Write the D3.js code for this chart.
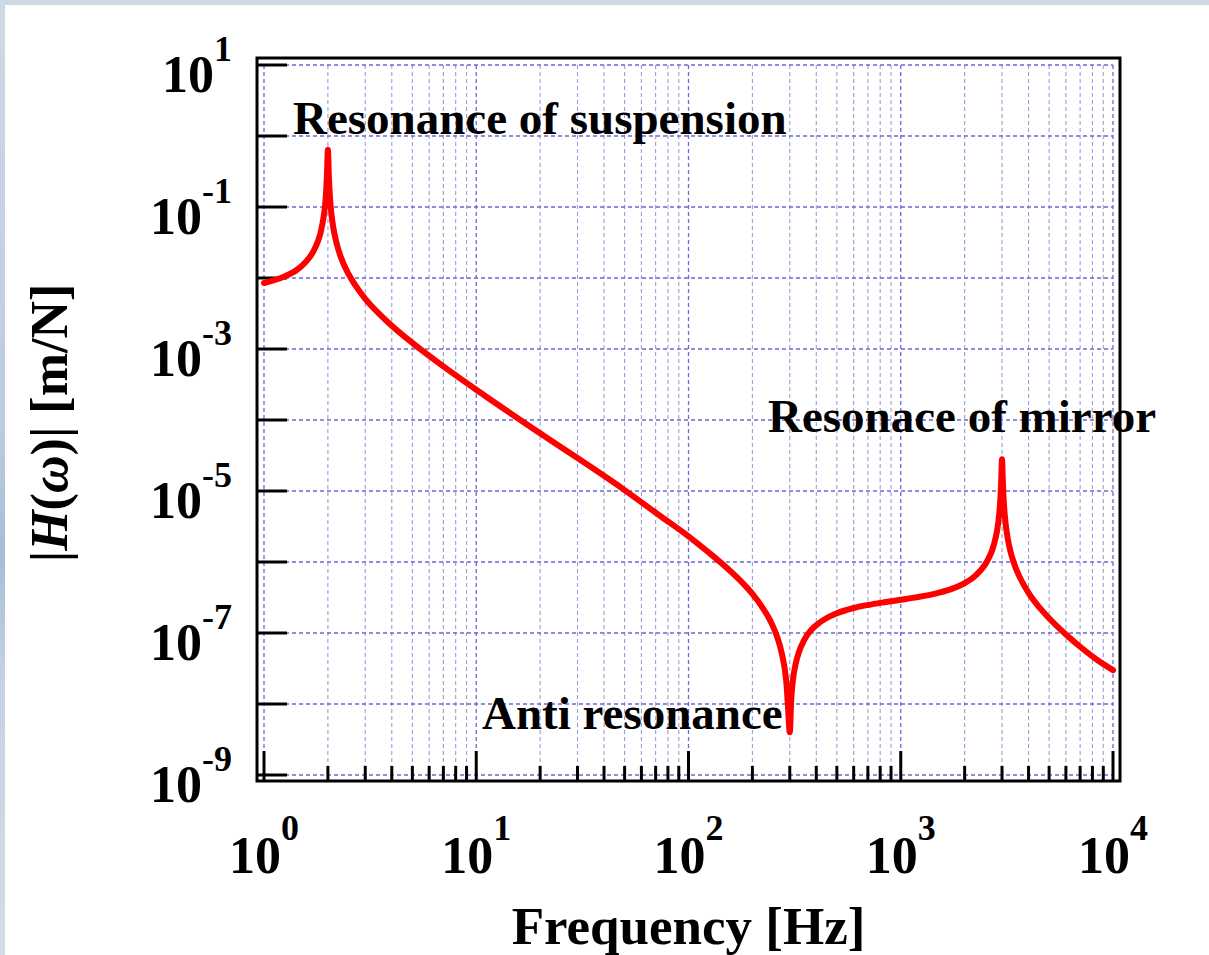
<!DOCTYPE html>
<html>
<head>
<meta charset="utf-8">
<script src="https://cdn.jsdelivr.net/npm/d3@7"></script>
<style>
  html, body { margin: 0; padding: 0; background: #ffffff; }
  svg { display: block; }
  text { font-family: "Liberation Serif", "Times New Roman", serif; font-weight: bold; fill: #000; }
</style>
</head>
<body>
<svg id="chart" width="1209" height="955"></svg>
<script>
// Frequency response magnitude of a suspended mirror (compliance, m/N)
const freqHz = [
  1, 1.1, 1.2, 1.3, 1.4, 1.5, 1.6, 1.7, 1.8, 1.85, 1.9, 1.93, 1.95, 1.98, 2,
  2.02, 2.05, 2.07, 2.1, 2.15, 2.2, 2.3, 2.5, 2.7, 3, 3.5, 4, 5, 7, 10,
  20, 50, 75, 100, 125, 150, 175, 200, 220, 240, 250, 260, 270, 280, 285,
  290, 295, 300, 305, 310, 320, 330, 350, 375, 400, 450, 500, 600, 700, 850,
  1000, 1200, 1500, 1750, 2000, 2250, 2500, 2650, 2700, 2800, 2850, 2900, 2950,
  2970, 2980, 2990, 3000, 3010, 3020, 3030, 3050, 3100, 3200, 3300, 3400, 3500,
  4000, 4500, 5000, 6000, 7000, 8500, 10000
];
const magnitude = [
  8.5e-3, 9.2e-3, 1.0e-2, 1.11e-2, 1.25e-2, 1.46e-2, 1.78e-2, 2.31e-2, 3.37e-2, 4.43e-2, 6.6e-2, 9.2e-2, 1.27e-1, 2.87e-1, 6.4e-1,
  2.85e-1, 1.24e-1, 8.9e-2, 6.2e-2, 4.11e-2, 3.05e-2, 1.98e-2, 1.14e-2, 7.8e-3, 5.1e-3, 3.1e-3, 2.13e-3, 1.22e-3, 5.7e-4, 2.67e-4,
  6.5e-5, 1.03e-5, 4.27e-6, 2.3e-6, 1.35e-6, 8.5e-7, 5.5e-7, 3.55e-7, 2.43e-7, 1.59e-7, 1.24e-7, 9.3e-8, 6.5e-8, 4.0e-8, 2.9e-8,
  1.8e-8, 8.0e-9, 4.0e-9, 1.2e-8, 2.1e-8, 3.7e-8, 5.2e-8, 7.9e-8, 1.07e-7, 1.29e-7, 1.64e-7, 1.9e-7, 2.25e-7, 2.48e-7, 2.73e-7,
  2.94e-7, 3.2e-7, 3.67e-7, 4.22e-7, 5.05e-7, 6.44e-7, 9.25e-7, 1.29e-6, 1.49e-6, 2.2e-6, 2.9e-6, 4.3e-6, 8.2e-6,
  1.27e-5, 1.7e-5, 2.37e-5, 2.8e-5, 2.36e-5, 1.7e-5, 1.27e-5, 8.1e-6, 4.15e-6, 2.06e-6, 1.35e-6, 1.0e-6, 7.9e-7,
  3.67e-7, 2.29e-7, 1.61e-7, 9.5e-8, 6.4e-8, 4.1e-8, 3.0e-8
];

// Axis ticks
const xMajorExp = [0, 1, 2, 3, 4];
const yMajorExp = [1, 0, -1, -2, -3, -4, -5, -6, -7, -8, -9];
const yLabelExp = [1, -1, -3, -5, -7, -9];

// Annotations
const notes = [
  { text: "Resonance of suspension", freq: 2 },
  { text: "Resonace of mirror", freq: 3000 },
  { text: "Anti resonance", freq: 300 }
];

const svg = d3.select("#chart");
const W = 1209, H = 955;

// page background with a soft blue border strip on top and left
const defs = svg.append("defs");
const lg = defs.append("linearGradient").attr("id", "edge").attr("x1", 0).attr("y1", 0).attr("x2", 0).attr("y2", 1);
[["0%", "#cfd9e7"], ["45%", "#bccbe0"], ["58%", "#a9bcd8"], ["72%", "#c6d3e4"], ["100%", "#d3dce8"]]
  .forEach(([o, c]) => lg.append("stop").attr("offset", o).attr("stop-color", c));
svg.append("rect").attr("width", W).attr("height", H).attr("fill", "#ffffff");
svg.append("rect").attr("x", 0).attr("y", 0).attr("width", W).attr("height", 5).attr("fill", "#cdd8e6");
svg.append("rect").attr("x", 0).attr("y", 0).attr("width", 5).attr("height", H).attr("fill", "url(#edge)");

// plot area
const x0 = 264, x1 = 1113, y0 = 65, y1 = 775;
const x = d3.scaleLog().domain([1, 1e4]).range([x0, x1]);
const y = d3.scaleLog().domain([1e-9, 1e1]).range([y1, y0]);

// grid
const grid = svg.append("g");
const xMinor = [];
for (let e = 0; e < 4; e++) for (let m = 2; m <= 9; m++) xMinor.push(m * Math.pow(10, e));
grid.selectAll("line.xminor").data(xMinor).join("line")
  .attr("x1", d => x(d)).attr("x2", d => x(d)).attr("y1", y0).attr("y2", y1)
  .attr("stroke", "#9c9cd8").attr("stroke-width", 1.1).attr("stroke-dasharray", "4,3");
grid.selectAll("line.xmajor").data(xMajorExp).join("line")
  .attr("x1", d => x(Math.pow(10, d))).attr("x2", d => x(Math.pow(10, d)))
  .attr("y1", y0).attr("y2", y1)
  .attr("stroke", "#6a6ad8").attr("stroke-width", 1.3).attr("stroke-dasharray", "4,3");
grid.selectAll("line.ymajor").data(yMajorExp).join("line")
  .attr("x1", x0).attr("x2", x1)
  .attr("y1", d => y(Math.pow(10, d))).attr("y2", d => y(Math.pow(10, d)))
  .attr("stroke", "#6a6ad8").attr("stroke-width", 1.3).attr("stroke-dasharray", "4,3");

// frame
svg.append("rect").attr("x", 257).attr("y", 58).attr("width", 863).attr("height", 723)
  .attr("fill", "none").attr("stroke", "#000").attr("stroke-width", 3);

// ticks (inward)
const ticks = svg.append("g").attr("stroke", "#000").attr("stroke-width", 3);
ticks.selectAll("line.yt").data(yMajorExp).join("line")
  .attr("x1", 257).attr("x2", 287)
  .attr("y1", d => y(Math.pow(10, d))).attr("y2", d => y(Math.pow(10, d)));
ticks.selectAll("line.xt").data(xMajorExp).join("line")
  .attr("x1", d => x(Math.pow(10, d))).attr("x2", d => x(Math.pow(10, d)))
  .attr("y1", 781).attr("y2", 751);
ticks.selectAll("line.xm").data(xMinor).join("line")
  .attr("x1", d => x(d)).attr("x2", d => x(d))
  .attr("y1", 781).attr("y2", 766);

// tick labels
const yl = svg.append("g").selectAll("text").data(yLabelExp).join("text")
  .attr("x", 232).attr("y", d => y(Math.pow(10, d)) + 27)
  .attr("text-anchor", "end").attr("font-size", 52);
yl.append("tspan").text("10");
yl.append("tspan").attr("font-size", 36).attr("dy", -31).text(d => String(d));

const xl = svg.append("g").selectAll("text").data(xMajorExp).join("text")
  .attr("x", d => x(Math.pow(10, d))).attr("y", 873)
  .attr("text-anchor", "middle").attr("font-size", 52);
xl.append("tspan").text("10");
xl.append("tspan").attr("font-size", 36).attr("dy", -33).text(d => String(d));

// axis titles
svg.append("text").attr("x", (x0 + x1) / 2).attr("y", 944)
  .attr("text-anchor", "middle").attr("font-size", 53).text("Frequency [Hz]");

const yt = svg.append("text")
  .attr("transform", "translate(67,423) rotate(-90)")
  .attr("text-anchor", "middle").attr("font-size", 52);
yt.append("tspan").text("|");
yt.append("tspan").attr("font-style", "italic").text("H");
yt.append("tspan").text("(");
yt.append("tspan").attr("font-style", "italic").text("\u03c9");
yt.append("tspan").text(")|  [m/N]");

// response curve
const line = d3.line()
  .x(d => x(d[0])).y(d => y(d[1]))
  .curve(d3.curveMonotoneX);
svg.append("path")
  .datum(freqHz.map((f, i) => [f, magnitude[i]]))
  .attr("d", line)
  .attr("fill", "none").attr("stroke", "#ff0000").attr("stroke-width", 6)
  .attr("stroke-linecap", "round").attr("stroke-linejoin", "round");

// annotations
const notePos = [
  { dx: 293 - x(2), y: 134 },
  { dx: 768 - x(3000), y: 432 },
  { dx: 482 - x(300), y: 729 }
];
svg.append("g").selectAll("text").data(notes).join("text")
  .attr("x", (d, i) => x(d.freq) + notePos[i].dx)
  .attr("y", (d, i) => notePos[i].y)
  .attr("font-size", 47)
  .text(d => d.text);
</script>
</body>
</html>
